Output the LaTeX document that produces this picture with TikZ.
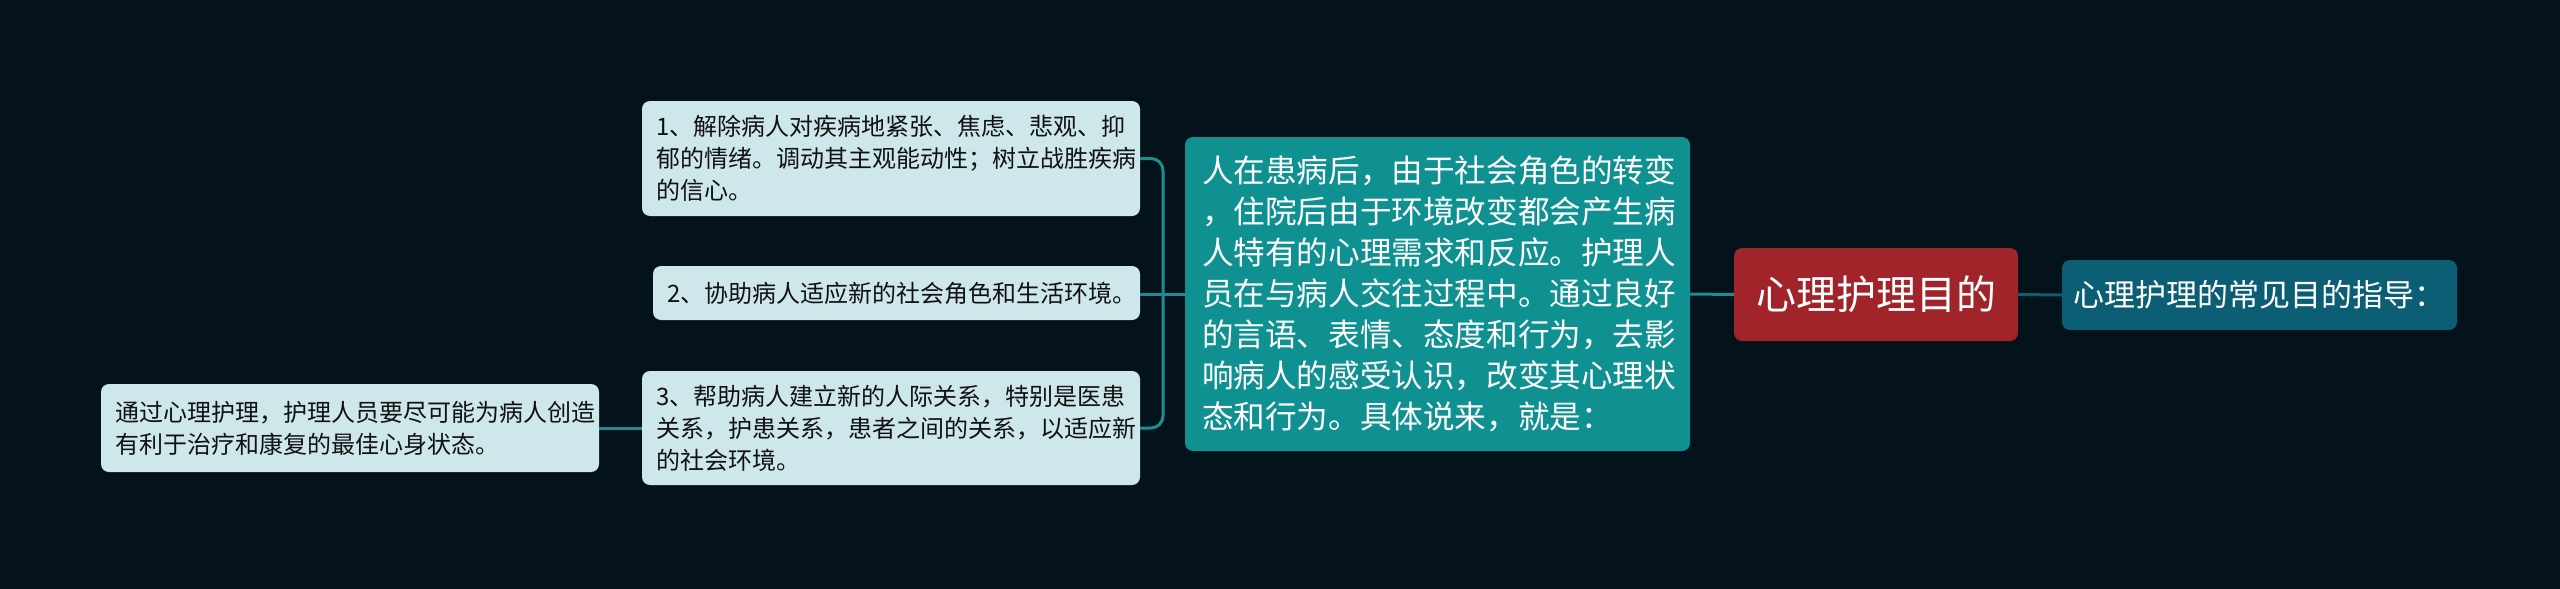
\documentclass[tikz,border=0pt]{standalone}
\usepackage{fontspec}
\setmainfont{Noto Sans CJK SC}
\definecolor{bg}{HTML}{04121B}
\definecolor{lightbox}{HTML}{CDE7EA}
\definecolor{darktext}{HTML}{111111}
\definecolor{mainteal}{HTML}{0F9192}
\definecolor{rootred}{HTML}{A1242A}
\definecolor{rightbox}{HTML}{0B5E74}
\definecolor{conn}{HTML}{1D8D93}
\tikzset{
  lightnode/.style={rounded corners=8pt, fill=lightbox, text=darktext,
    font=\fontsize{24}{32}\selectfont, align=left, inner xsep=14pt, inner ysep=0pt,
    text width=470pt, anchor=center},
  mainnode/.style={rounded corners=8pt, fill=mainteal, text=white,
    font=\fontsize{31.6}{41}\selectfont, align=left, inner xsep=17pt, inner ysep=0pt,
    text width=471pt, minimum height=314pt},
  rootnode/.style={rounded corners=8pt, fill=rootred, text=white,
    font=\fontsize{40}{48}\selectfont, align=center, inner sep=0pt,
    minimum width=284pt, minimum height=93pt},
  rightnode/.style={rounded corners=8pt, fill=rightbox, text=white,
    font=\fontsize{31}{38}\selectfont, align=left, inner sep=0pt,
    minimum width=395pt, minimum height=70pt},
  connline/.style={draw=conn, line width=3pt},
}
\begin{document}
\begin{tikzpicture}[x=1pt,y=-1pt]
\useasboundingbox[fill=bg] (0,0) rectangle (2560,589);

\node[lightnode, minimum height=115pt] (b1) at (891,158.5)
  {1、解除病人对疾病地紧张、焦虑、悲观、抑\\郁的情绪。调动其主观能动性；树立战胜疾病\\的信心。};
\node[lightnode, minimum height=54pt, text width=459pt] (b2) at (896.5,293)
  {2、协助病人适应新的社会角色和生活环境。};
\node[lightnode, minimum height=114pt] (b3) at (891,428)
  {3、帮助病人建立新的人际关系，特别是医患\\关系，护患关系，患者之间的关系，以适应新\\的社会环境。};
\node[lightnode, minimum height=88pt] (lf) at (350,428)
  {通过心理护理，护理人员要尽可能为病人创造\\有利于治疗和康复的最佳心身状态。};
\node[mainnode] (main) at (1437.5,294)
  {人在患病后，由于社会角色的转变\\，住院后由于环境改变都会产生病\\人特有的心理需求和反应。护理人\\员在与病人交往过程中。通过良好\\的言语、表情、态度和行为，去影\\响病人的感受认识，改变其心理状\\态和行为。具体说来，就是：};
\node[rootnode] (root) at (1876,294.5) {心理护理目的};
\node[rightnode] (rt) at (2259.5,295) {心理护理的常见目的指导：};

\coordinate (j) at (1163,294);
\draw[connline] (root.west) -- (main.east);
\draw[draw=rightbox, line width=3pt] (root.east) -- (rt.west);
\draw[connline] (main.west) -- (j);
\draw[connline, rounded corners=12pt] (j) |- (b1.east);
\draw[connline, rounded corners=12pt] (j) |- (b3.east);
\draw[connline] (j) -- (b2.east |- j);
\draw[connline] (b3.west) -- (lf.east);
\end{tikzpicture}
\end{document}
